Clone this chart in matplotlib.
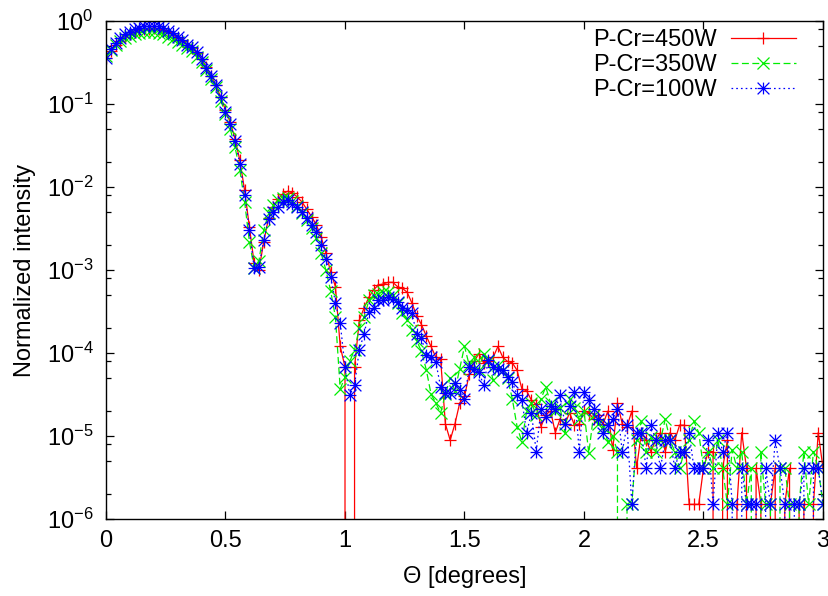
import numpy as np
import matplotlib
matplotlib.use("Agg")
import matplotlib.pyplot as plt
from matplotlib.path import Path
from matplotlib.ticker import FixedLocator, FixedFormatter

# ---------------- data ----------------
theta_step = 0.02
n_points = 151

labels = ["P-Cr=450W", "P-Cr=350W", "P-Cr=100W"]

i_450 = [
    0.36, 0.44, 0.51, 0.58, 0.65, 0.69, 0.73, 0.77, 0.79, 0.81,
    0.82, 0.80, 0.78, 0.73, 0.68, 0.63, 0.58, 0.52, 0.47, 0.41,
    0.35, 0.28, 0.22, 0.17, 0.12, 8.5e-2, 6.0e-2, 3.8e-2, 2.1e-2, 9.1e-3,
    3.3e-3, 1.2e-3, 1.0e-3, 2.2e-3, 4.2e-3, 5.8e-3, 7.2e-3, 8.3e-3, 8.9e-3, 8.5e-3,
    7.6e-3, 6.6e-3, 5.4e-3, 4.4e-3, 3.5e-3, 2.5e-3, 1.6e-3, 9.5e-4, 6.3e-4, 1.2e-4,
    6.8e-5, 0.0, 6.8e-5, 2.5e-4, 3.5e-4, 4.7e-4, 5.8e-4, 6.6e-4, 6.8e-4, 7.1e-4,
    7.1e-4, 6.3e-4, 6.0e-4, 5.4e-4, 4.0e-4, 2.8e-4, 2.2e-4, 1.6e-4, 1.2e-4, 8.9e-5,
    8.5e-5, 1.4e-5, 8.9e-6, 1.4e-5, 2.5e-5, 3.0e-5, 5.6e-5, 7.9e-5, 9.8e-5, 7.6e-5,
    7.9e-5, 8.9e-5, 1.2e-4, 8.9e-5, 7.9e-5, 7.6e-5, 6.2e-5, 3.7e-5, 3.5e-5, 2.7e-5,
    2.4e-5, 1.3e-5, 1.8e-5, 2.0e-5, 1.1e-5, 1.6e-5, 1.4e-5, 1.9e-5, 1.35e-5, 1.4e-5,
    2.0e-5, 1.9e-5, 1.6e-5, 1.8e-5, 1.4e-5, 2.0e-5, 6.8e-6, 2.5e-5, 1.4e-5, 1.3e-5,
    2.0e-5, 4.1e-6, 1.1e-5, 8.9e-6, 6.5e-6, 8.9e-6, 1.1e-5, 6.5e-6, 1.1e-5, 8.9e-6,
    1.35e-5, 1.35e-5, 1.5e-6, 1.5e-6, 1.5e-6, 4.1e-6, 6.5e-6, 6.5e-6, 0.0, 4.1e-6,
    8.9e-6, 0.0, 1.5e-6, 1.1e-5, 4.1e-6, 0.0, 4.1e-6, 1.5e-6, 0.0, 1.5e-6,
    4.1e-6, 0.0, 1.5e-6, 4.1e-6, 0.0, 1.5e-6, 1.5e-6, 0.0, 1.5e-6, 1.1e-5,
    4.1e-6,
]

i_350 = [
    0.38, 0.45, 0.51, 0.57, 0.62, 0.66, 0.69, 0.72, 0.73, 0.74,
    0.74, 0.72, 0.69, 0.65, 0.61, 0.56, 0.52, 0.47, 0.43, 0.37,
    0.32, 0.26, 0.20, 0.16, 0.11, 7.6e-2, 5.0e-2, 3.0e-2, 1.6e-2, 6.6e-3,
    2.2e-3, 1.05e-3, 1.3e-3, 3.0e-3, 4.8e-3, 6.0e-3, 6.9e-3, 7.4e-3, 7.4e-3, 6.8e-3,
    5.9e-3, 4.9e-3, 4.0e-3, 3.2e-3, 2.4e-3, 1.6e-3, 1.0e-3, 5.6e-4, 2.7e-4, 3.7e-5,
    5.1e-5, 7.9e-5, 1.1e-4, 2.0e-4, 2.7e-4, 4.3e-4, 5.0e-4, 5.2e-4, 5.5e-4, 5.4e-4,
    5.0e-4, 4.0e-4, 3.0e-4, 2.5e-4, 1.9e-4, 1.4e-4, 1.05e-4, 6.3e-5, 3.2e-5, 2.5e-5,
    1.9e-5, 3.2e-5, 5.0e-5, 3.5e-5, 6.5e-5, 1.2e-4, 7.1e-5, 8.9e-5, 6.3e-5, 9.8e-5,
    7.9e-5, 4.7e-5, 7.1e-5, 6.3e-5, 5.0e-5, 2.8e-5, 1.3e-5, 8.5e-6, 2.0e-5, 2.5e-5,
    1.8e-5, 2.8e-5, 3.9e-5, 2.5e-5, 2.0e-5, 2.2e-5, 1.1e-5, 2.8e-5, 2.2e-5, 1.6e-5,
    2.0e-5, 6.2e-6, 1.8e-5, 1.4e-5, 1.3e-5, 8.5e-6, 1.0e-5, 6.5e-6, 0.0, 1.5e-6,
    1.5e-6, 8.9e-6, 1.5e-5, 6.5e-6, 9.8e-6, 6.5e-6, 8.9e-6, 1.6e-5, 8.9e-6, 6.5e-6,
    4.1e-6, 6.5e-6, 8.9e-6, 1.5e-5, 1.1e-5, 4.1e-6, 6.5e-6, 4.1e-6, 8.9e-6, 4.1e-6,
    1.5e-6, 6.8e-6, 4.1e-6, 6.5e-6, 1.5e-6, 4.1e-6, 0.0, 6.5e-6, 1.5e-6, 1.5e-6,
    0.0, 4.1e-6, 4.1e-6, 1.5e-6, 0.0, 1.5e-6, 6.5e-6, 1.5e-6, 6.5e-6, 4.1e-6,
    1.5e-6,
]

i_100 = [
    0.36, 0.46, 0.54, 0.62, 0.69, 0.74, 0.79, 0.83, 0.86, 0.88,
    0.88, 0.86, 0.82, 0.76, 0.71, 0.65, 0.59, 0.52, 0.48, 0.42,
    0.35, 0.27, 0.22, 0.17, 0.12, 8.1e-2, 5.8e-2, 3.6e-2, 1.9e-2, 8.1e-3,
    3.0e-3, 1.05e-3, 1.1e-3, 2.3e-3, 4.1e-3, 5.0e-3, 5.8e-3, 6.6e-3, 6.9e-3, 6.3e-3,
    5.8e-3, 5.0e-3, 4.2e-3, 3.5e-3, 2.9e-3, 2.0e-3, 1.35e-3, 8.3e-4, 4.0e-4, 2.3e-4,
    6.8e-5, 3.1e-5, 4.1e-5, 1.1e-4, 1.7e-4, 3.1e-4, 3.5e-4, 4.3e-4, 4.4e-4, 4.7e-4,
    4.5e-4, 4.1e-4, 3.5e-4, 3.3e-4, 3.0e-4, 1.7e-4, 1.5e-4, 9.5e-5, 8.9e-5, 7.8e-5,
    3.9e-5, 3.3e-5, 3.3e-5, 4.3e-5, 3.6e-5, 2.8e-5, 6.8e-5, 6.5e-5, 5.9e-5, 4.1e-5,
    8.3e-5, 6.8e-5, 6.5e-5, 6.2e-5, 5.2e-5, 4.5e-5, 3.1e-5, 2.7e-5, 1.1e-5, 1.9e-5,
    6.5e-6, 2.1e-5, 1.7e-5, 2.3e-5, 2.1e-5, 3.1e-5, 1.4e-5, 2.3e-5, 3.4e-5, 6.5e-6,
    3.4e-5, 2.7e-5, 2.1e-5, 1.6e-5, 1.1e-5, 1.35e-5, 1.6e-5, 2.1e-5, 6.5e-6, 1.35e-5,
    1.5e-6, 1.1e-5, 1.1e-5, 4.1e-6, 1.35e-5, 8.9e-6, 4.1e-6, 8.9e-6, 8.9e-6, 4.1e-6,
    6.5e-6, 6.5e-6, 1.1e-5, 4.1e-6, 4.1e-6, 4.1e-6, 8.9e-6, 1.5e-6, 1.1e-5, 6.5e-6,
    1.1e-5, 1.5e-6, 0.0, 4.1e-6, 1.5e-6, 1.5e-6, 1.5e-6, 0.0, 4.1e-6, 1.5e-6,
    8.9e-6, 4.1e-6, 1.5e-6, 0.0, 1.5e-6, 1.5e-6, 4.1e-6, 0.0, 4.1e-6, 4.1e-6,
    1.5e-6,
]

x_ticks = [0, 0.5, 1, 1.5, 2, 2.5, 3]
x_tick_labels = ["0", "0.5", "1", "1.5", "2", "2.5", "3"]
y_ticks = [1e-6, 1e-5, 1e-4, 1e-3, 1e-2, 1e-1, 1e0]
y_tick_labels = [r"$10^{-6}$", r"$10^{-5}$", r"$10^{-4}$", r"$10^{-3}$",
                 r"$10^{-2}$", r"$10^{-1}$", r"$10^{0}$"]

theta = np.arange(n_points) * theta_step

# ---------------- style ----------------
plt.rcParams["font.family"] = ["Liberation Sans", "DejaVu Sans"]
plt.rcParams["mathtext.fontset"] = "custom"
plt.rcParams["mathtext.rm"] = "Liberation Sans"
plt.rcParams["mathtext.it"] = "Liberation Sans"
plt.rcParams["mathtext.default"] = "regular"
plt.rcParams["lines.scale_dashes"] = False

FS = 17

# gnuplot-like asterisk marker (+ and x together)
asterisk = Path(
    [(-1, 0), (1, 0), (0, -1), (0, 1), (-1, -1), (1, 1), (-1, 1), (1, -1)],
    [Path.MOVETO, Path.LINETO] * 4,
)

fig = plt.figure(figsize=(8.29, 5.96), dpi=100)
ax = fig.add_axes([106 / 829, 1 - 519 / 596, 717 / 829, 498 / 596])

styles = [
    dict(color="#ff0000", linestyle="-", marker="+", markersize=9),
    dict(color="#00ee00", linestyle=(0, (5, 2.5)), marker="x", markersize=8),
    dict(color="#0000ff", linestyle=(0, (1.2, 2.2)), marker=asterisk, markersize=8.5),
]

for y, lab, st in zip([i_450, i_350, i_100], labels, styles):
    ax.plot(theta, y, label=lab, linewidth=0.9, markeredgewidth=0.9,
            clip_on=True, **st)

ax.set_yscale("log", nonpositive="clip")
ax.set_xlim(0, 3)
ax.set_ylim(1e-6, 1)

ax.xaxis.set_major_locator(FixedLocator(x_ticks))
ax.xaxis.set_major_formatter(FixedFormatter(x_tick_labels))
ax.xaxis.set_minor_locator(FixedLocator([]))
ax.yaxis.set_major_locator(FixedLocator(y_ticks))
ax.yaxis.set_major_formatter(FixedFormatter(y_tick_labels))
minor = [m * 10.0 ** e for e in range(-6, 0) for m in (2, 5, 8)]
ax.yaxis.set_minor_locator(FixedLocator(minor))
ax.yaxis.set_minor_formatter(FixedFormatter([""] * len(minor)))

ax.tick_params(which="both", direction="in", top=True, right=True,
               width=0.9, colors="black", labelsize=FS)
ax.tick_params(which="major", length=6)
ax.tick_params(which="minor", length=3.5)
ax.tick_params(axis="x", pad=8)
ax.tick_params(axis="y", pad=9)

for sp in ax.spines.values():
    sp.set_linewidth(1.0)
    sp.set_color("black")

ax.set_xlabel("Θ [degrees]", fontsize=FS)
ax.set_ylabel("Normalized intensity", fontsize=FS)
ax.xaxis.set_label_coords(0.5, -0.095)
ax.yaxis.set_label_coords(-0.098, 0.5)

leg = ax.legend(loc="upper right", bbox_to_anchor=(0.962, 0.983),
                frameon=False, markerfirst=False, fontsize=FS,
                handlelength=2.75, handletextpad=0.6, labelspacing=0.12,
                borderpad=0, borderaxespad=0)

fig.savefig("out.png", dpi=100)
